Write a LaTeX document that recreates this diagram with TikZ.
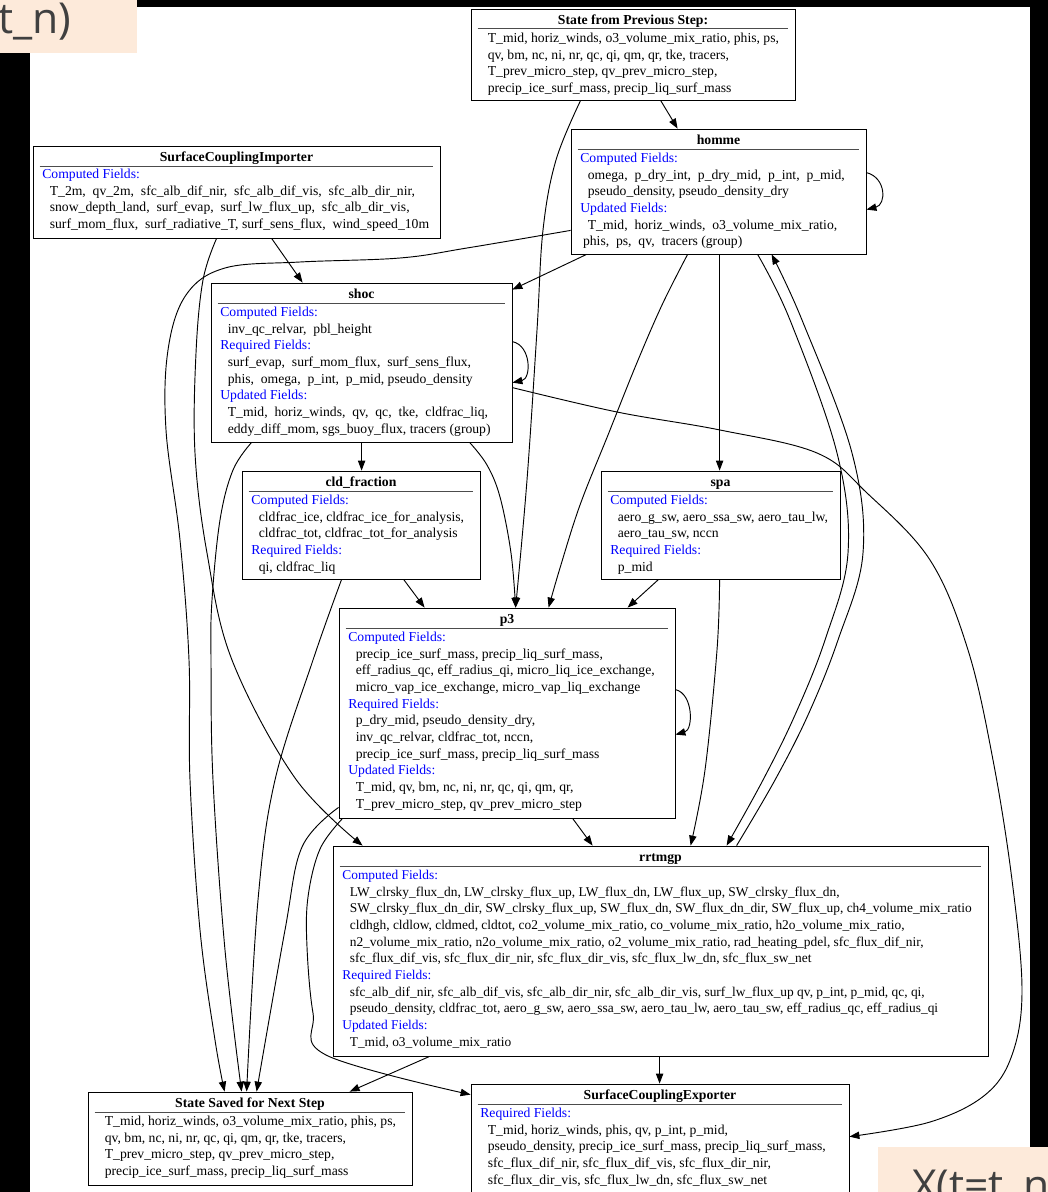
\documentclass[tikz,border=0pt]{standalone}
\usepackage{fontspec}
\setmainfont{Liberation Serif}
\newfontfamily\slidefont{Open Sans}
\usetikzlibrary{arrows.meta,calc,fit}
\definecolor{fieldblue}{RGB}{0,0,255}
\definecolor{peach}{RGB}{253,234,218}
\definecolor{slidegray}{RGB}{64,64,64}
\newcommand{\hdr}[1]{{\color{fieldblue}#1}}
\newcommand{\fld}{\hspace*{5.6pt}}

\begin{document}
\begin{tikzpicture}[x=0.75pt,y=-0.75pt,
  box/.style={draw=black,line width=0.6pt,inner sep=0pt,fit={#1}},
  ttl/.style={anchor=base,inner sep=0pt,font=\fontsize{10.3}{12.5}\selectfont\bfseries},
  fields/.style={anchor=north west,inner sep=0pt,align=left,font=\fontsize{10.25}{12.5}\selectfont},
  hbar/.style={draw=black!70,line width=1.1pt},
  dep/.style={-{Triangle[length=7.5pt,width=5.5pt]},line width=0.7pt},
  slide/.style={anchor=base west,inner sep=0pt,text=slidegray,font=\slidefont\fontsize{32}{36}\selectfont}]
  \clip (0,0) rectangle (1048,1192);
  \fill[white] (0,0) rectangle (1048,1192);

  \node[box={(471,9) (795,100)}] (prev) {};
  \node[ttl] (prev-t) at ($(prev.north)+(0,15.5)$) {State from Previous Step:};
  \draw[hbar] ($(prev.north west)+(7,20)$) -- ($(prev.north east)+(-7,20)$);
  \node[fields] (prev-f) at ($(prev.north west)+(9.5,21.8)$) {\strut\fld T\_mid, horiz\_winds, o3\_volume\_mix\_ratio, phis, ps,\\
    \fld qv, bm, nc, ni, nr, qc, qi, qm, qr, tke, tracers,\\
    \fld T\_prev\_micro\_step, qv\_prev\_micro\_step,\\
    \fld precip\_ice\_surf\_mass, precip\_liq\_surf\_mass};

  \node[box={(571,129) (866,254)}] (homme) {};
  \node[ttl] (homme-t) at ($(homme.north)+(0,15.5)$) {homme};
  \draw[hbar] ($(homme.north west)+(7,21)$) -- ($(homme.north east)+(-7,21)$);
  \node[fields] (homme-f) at ($(homme.north west)+(9.5,21.8)$) {\strut\hdr{Computed Fields:}\\
    \fld omega,\ \ p\_dry\_int,\ \ p\_dry\_mid,\ \ p\_int,\ \ p\_mid,\\
    \fld pseudo\_density, pseudo\_density\_dry\\
    \hdr{Updated Fields:}\\
    \fld T\_mid,\ \ horiz\_winds,\ \ o3\_volume\_mix\_ratio,\\
    \hspace*{2pt}phis,\ \ ps,\ \ qv,\ \ tracers (group)};

  \node[box={(33,146) (440,238)}] (sci) {};
  \node[ttl] (sci-t) at ($(sci.north)+(0,15.5)$) {SurfaceCouplingImporter};
  \draw[hbar] ($(sci.north west)+(7,21)$) -- ($(sci.north east)+(-7,21)$);
  \node[fields] (sci-f) at ($(sci.north west)+(9.5,20.8)$) {\strut\hdr{Computed Fields:}\\
    \fld T\_2m,\ \ qv\_2m,\ \ sfc\_alb\_dif\_nir,\ \ sfc\_alb\_dif\_vis,\ \ sfc\_alb\_dir\_nir,\\
    \fld snow\_depth\_land,\ \ surf\_evap,\ \ surf\_lw\_flux\_up,\ \ sfc\_alb\_dir\_vis,\\
    \fld surf\_mom\_flux,\ \ surf\_radiative\_T, surf\_sens\_flux,\ \ wind\_speed\_10m};

  \node[box={(211,283) (512,442)}] (shoc) {};
  \node[ttl] (shoc-t) at ($(shoc.north)+(0,15.5)$) {shoc};
  \draw[hbar] ($(shoc.north west)+(7,21)$) -- ($(shoc.north east)+(-7,21)$);
  \node[fields] (shoc-f) at ($(shoc.north west)+(9.5,21.8)$) {\strut\hdr{Computed Fields:}\\
    \fld inv\_qc\_relvar,\ \ pbl\_height\\
    \hdr{Required Fields:}\\
    \fld surf\_evap,\ \ surf\_mom\_flux,\ \ surf\_sens\_flux,\\
    \fld phis,\ \ omega,\ \ p\_int,\ \ p\_mid, pseudo\_density\\
    \hdr{Updated Fields:}\\
    \fld T\_mid,\ \ horiz\_winds,\ \ qv,\ \ qc,\ \ tke,\ \ cldfrac\_liq,\\
    \fld eddy\_diff\_mom, sgs\_buoy\_flux, tracers (group)};

  \node[box={(242,471) (480,579)}] (cld) {};
  \node[ttl] (cld-t) at ($(cld.north)+(0,15.5)$) {cld\_fraction};
  \draw[hbar] ($(cld.north west)+(7,21)$) -- ($(cld.north east)+(-7,21)$);
  \node[fields] (cld-f) at ($(cld.north west)+(9.5,21.8)$) {\strut\hdr{Computed Fields:}\\
    \fld cldfrac\_ice, cldfrac\_ice\_for\_analysis,\\
    \fld cldfrac\_tot, cldfrac\_tot\_for\_analysis\\
    \hdr{Required Fields:}\\
    \fld qi, cldfrac\_liq};

  \node[box={(601,471) (840,579)}] (spa) {};
  \node[ttl] (spa-t) at ($(spa.north)+(0,15.5)$) {spa};
  \draw[hbar] ($(spa.north west)+(7,21)$) -- ($(spa.north east)+(-7,21)$);
  \node[fields] (spa-f) at ($(spa.north west)+(9.5,21.8)$) {\strut\hdr{Computed Fields:}\\
    \fld aero\_g\_sw, aero\_ssa\_sw, aero\_tau\_lw,\\
    \fld aero\_tau\_sw, nccn\\
    \hdr{Required Fields:}\\
    \fld p\_mid};

  \node[box={(339,608) (675,818)}] (p3) {};
  \node[ttl] (p3-t) at ($(p3.north)+(0,15.5)$) {p3};
  \draw[hbar] ($(p3.north west)+(7,21)$) -- ($(p3.north east)+(-7,21)$);
  \node[fields] (p3-f) at ($(p3.north west)+(9.5,21.8)$) {\strut\hdr{Computed Fields:}\\
    \fld precip\_ice\_surf\_mass, precip\_liq\_surf\_mass,\\
    \fld eff\_radius\_qc, eff\_radius\_qi, micro\_liq\_ice\_exchange,\\
    \fld micro\_vap\_ice\_exchange, micro\_vap\_liq\_exchange\\
    \hdr{Required Fields:}\\
    \fld p\_dry\_mid, pseudo\_density\_dry,\\
    \fld inv\_qc\_relvar, cldfrac\_tot, nccn,\\
    \fld precip\_ice\_surf\_mass, precip\_liq\_surf\_mass\\
    \hdr{Updated Fields:}\\
    \fld T\_mid, qv, bm, nc, ni, nr, qc, qi, qm, qr,\\
    \fld T\_prev\_micro\_step, qv\_prev\_micro\_step};

  \node[box={(333,846) (988,1056)}] (rrtmgp) {};
  \node[ttl] (rrtmgp-t) at ($(rrtmgp.north)+(0,15.5)$) {rrtmgp};
  \draw[hbar] ($(rrtmgp.north west)+(7,21)$) -- ($(rrtmgp.north east)+(-7,21)$);
  \node[fields,font=\fontsize{10.05}{12.5}\selectfont] (rrtmgp-f) at ($(rrtmgp.north west)+(9.5,21.8)$) {\strut\hdr{Computed Fields:}\\
    \fld LW\_clrsky\_flux\_dn, LW\_clrsky\_flux\_up, LW\_flux\_dn, LW\_flux\_up, SW\_clrsky\_flux\_dn,\\
    \fld SW\_clrsky\_flux\_dn\_dir, SW\_clrsky\_flux\_up, SW\_flux\_dn, SW\_flux\_dn\_dir, SW\_flux\_up, ch4\_volume\_mix\_ratio\\
    \fld cldhgh, cldlow, cldmed, cldtot, co2\_volume\_mix\_ratio, co\_volume\_mix\_ratio, h2o\_volume\_mix\_ratio,\\
    \fld n2\_volume\_mix\_ratio, n2o\_volume\_mix\_ratio, o2\_volume\_mix\_ratio, rad\_heating\_pdel, sfc\_flux\_dif\_nir,\\
    \fld sfc\_flux\_dif\_vis, sfc\_flux\_dir\_nir, sfc\_flux\_dir\_vis, sfc\_flux\_lw\_dn, sfc\_flux\_sw\_net\\
    \hdr{Required Fields:}\\
    \fld sfc\_alb\_dif\_nir, sfc\_alb\_dif\_vis, sfc\_alb\_dir\_nir, sfc\_alb\_dir\_vis, surf\_lw\_flux\_up qv, p\_int, p\_mid, qc, qi,\\
    \fld pseudo\_density, cldfrac\_tot, aero\_g\_sw, aero\_ssa\_sw, aero\_tau\_lw, aero\_tau\_sw, eff\_radius\_qc, eff\_radius\_qi\\
    \hdr{Updated Fields:}\\
    \fld T\_mid, o3\_volume\_mix\_ratio};

  \node[box={(88,1092) (412,1185)}] (saved) {};
  \node[ttl] (saved-t) at ($(saved.north)+(0,16)$) {State Saved for Next Step};
  \draw[hbar] ($(saved.north west)+(7,21)$) -- ($(saved.north east)+(-7,21)$);
  \node[fields] (saved-f) at ($(saved.north west)+(9.5,21.8)$) {\strut\fld T\_mid, horiz\_winds, o3\_volume\_mix\_ratio, phis, ps,\\
    \fld qv, bm, nc, ni, nr, qc, qi, qm, qr, tke, tracers,\\
    \fld T\_prev\_micro\_step, qv\_prev\_micro\_step,\\
    \fld precip\_ice\_surf\_mass, precip\_liq\_surf\_mass};

  \node[box={(471,1084) (849,1195)}] (sce) {};
  \node[ttl] (sce-t) at ($(sce.north)+(0,15.5)$) {SurfaceCouplingExporter};
  \draw[hbar] ($(sce.north west)+(7,21)$) -- ($(sce.north east)+(-7,21)$);
  \node[fields] (sce-f) at ($(sce.north west)+(9.5,21.8)$) {\strut\hdr{Required Fields:}\\
    \fld T\_mid, horiz\_winds, phis, qv, p\_int, p\_mid,\\
    \fld pseudo\_density, precip\_ice\_surf\_mass, precip\_liq\_surf\_mass,\\
    \fld sfc\_flux\_dif\_nir, sfc\_flux\_dif\_vis, sfc\_flux\_dir\_nir,\\
    \fld sfc\_flux\_dir\_vis, sfc\_flux\_lw\_dn, sfc\_flux\_sw\_net};

  \draw[dep] ($(prev.south west)+(190,0)$) -- ($(homme.north west)+(107,0)$);
  \draw[dep] plot[smooth,tension=0.6] coordinates {($(prev.south west)+(110,0)$) (556,160) (543,230) (537,330) (527,480) ($(p3.north west)+(177,0)$)};
  \draw[dep] ($(homme.north east)+(0,44)$) .. controls +(20,5) and +(20,-5) .. ($(homme.north east)+(0,81)$);
  \draw[dep] ($(homme.south west)+(16,0)$) -- ($(shoc.north east)+(0,7)$);
  \draw[dep] plot[smooth,tension=0.6] coordinates {($(homme.south west)+(0,-24)$) (467,248) (400,258) (300,262) (225,268) (186,295) (168,350) (166,430) (180,540) (189,660) (190,780) (200,930) (215,1040) ($(saved.north west)+(137,0)$)};
  \draw[dep] ($(homme.south west)+(149,0)$) -- ($(spa.north west)+(119,0)$);
  \draw[dep] plot[smooth,tension=0.6] coordinates {($(homme.south west)+(117,0)$) (662,305) (636,365) (608,435) (580,505) (560,568) ($(p3.north west)+(210,0)$)};
  \draw[dep] plot[smooth,tension=0.6] coordinates {($(homme.south west)+(187,0)$) (790,320) (837,453) (848,553) (825,640) (795,715) (763,780) ($(rrtmgp.north west)+(394,0)$)};
  \draw[dep] plot[smooth,tension=0.6] coordinates {($(rrtmgp.north west)+(404,0)$) (775,780) (808,715) (838,640) (863,553) (852,453) (802,320) ($(homme.south west)+(201,0)$)};

  \draw[dep] ($(sci.south west)+(239,0)$) -- ($(shoc.north west)+(92,0)$);
  \draw[dep] plot[smooth,tension=0.6] coordinates {($(sci.south west)+(184,0)$) (203,280) (196,353) (195,453) (207,553) (232,660) (295,778) ($(rrtmgp.north west)+(30,0)$)};

  \draw[dep] ($(shoc.north east)+(0,59)$) .. controls +(19,4) and +(19,-4) .. ($(shoc.north east)+(0,100)$);
  \draw[dep] ($(shoc.south west)+(151,0)$) -- ($(cld.north west)+(120,0)$);
  \draw[dep] plot[smooth,tension=0.6] coordinates {($(shoc.south west)+(259,0)$) (487,465) (500,497) (511,553) ($(p3.north west)+(177,0)$)};
  \draw[dep] plot[smooth,tension=0.6] coordinates {($(shoc.south west)+(41,0)$) (233,470) (220,520) (212,600) (211,660) (213,780) (225,950) ($(saved.north west)+(154,0)$)};
  \draw[dep] plot[smooth,tension=0.6] coordinates {($(shoc.north east)+(0,105)$) (617,412) (720,430) (817,453) (867,493) (930,560) (968,650) (993,760) (1012,880) (1022,990) (1012,1055) (985,1095) (930,1122) ($(sce.north east)+(0,53)$)};

  \draw[dep] ($(cld.south west)+(162,0)$) -- ($(p3.north west)+(86,0)$);
  \draw[dep] plot[smooth,tension=0.6] coordinates {($(cld.south west)+(100,0)$) (313,660) (275,780) (258,900) ($(saved.north west)+(159,0)$)};

  \draw[dep] ($(spa.south west)+(58,0)$) -- ($(p3.north west)+(289,0)$);
  \draw[dep] plot[smooth,tension=0.6] coordinates {($(spa.south west)+(119,0)$) (717,650) (705,770) ($(rrtmgp.north west)+(358,0)$)};

  \draw[dep] ($(p3.north east)+(0,82)$) .. controls +(18,4) and +(18,-5) .. ($(p3.north east)+(0,127)$);
  \draw[dep] ($(p3.south west)+(234,0)$) -- ($(rrtmgp.north west)+(260,0)$);
  \draw[dep] plot[smooth,tension=0.6] coordinates {($(p3.south west)+(0,-11)$) (302,847) (285,930) ($(saved.north west)+(169,0)$)};
  \draw[dep] plot[smooth,tension=0.6] coordinates {($(p3.south west)+(4,0)$) (320,849) (308,897) (307,947) (313,1013) (326,1055) ($(sce.north west)+(0,11)$)};

  \draw[dep] ($(rrtmgp.south west)+(97,0)$) -- ($(saved.north west)+(262,0)$);
  \draw[dep] ($(rrtmgp.south west)+(327,0)$) -- ($(sce.north west)+(189,0)$);

  \fill[black] (137,0) rectangle (1048,7);
  \fill[black] (0,53) rectangle (30,1192);
  \fill[black] (1030,0) rectangle (1048,1192);
  \fill[peach] (0,0) rectangle (137,53);
  \fill[peach] (878,1147) rectangle (1048,1192);
  \node[slide] (tn) at (-2,33) {t\_n)};
  \node[slide] (xt) at (912,1200) {X(t=t\_n};
\end{tikzpicture}
\end{document}
